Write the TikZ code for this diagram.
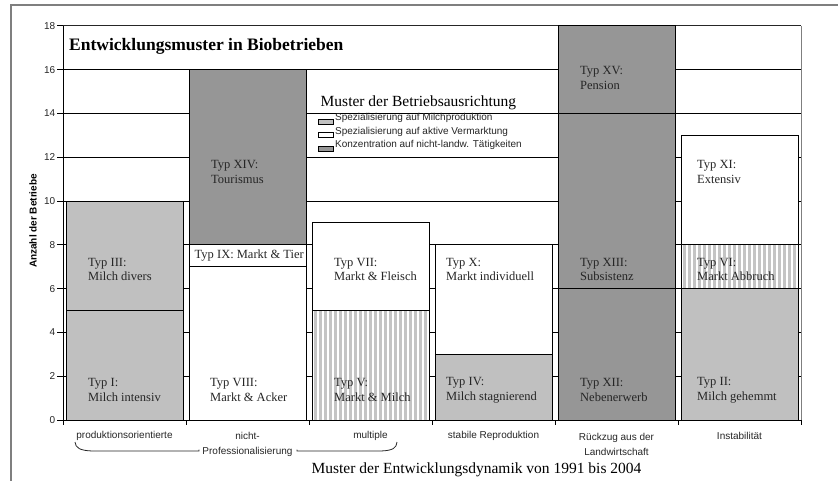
\documentclass[tikz,border=0pt]{standalone}
\usepackage{fontspec}
\setmainfont{Liberation Serif}
\setsansfont{Liberation Sans}
\definecolor{lgray}{HTML}{C0C0C0}
\definecolor{dgray}{HTML}{969696}
\definecolor{sgray}{HTML}{C4C4C4}
\definecolor{frame}{HTML}{7F7F7F}
\tikzset{
  declare function={vy(\v)=420-21.9*\v;},
  barline/.style={draw=black,line width=0.9pt},
  light/.style={fill=lgray},
  dark/.style={fill=dgray},
  blank/.style={fill=white},
  grid line/.style={draw=black,line width=0.8pt},
  typlabel/.style={font=\fontsize{12.5}{14.8}\selectfont,align=left,anchor=west,inner sep=0pt,text=black!85},
  catlabel/.style={font=\sffamily\fontsize{10}{15}\selectfont,align=center,inner sep=0pt,text=black!85},
  ticklabel/.style={font=\sffamily\fontsize{10}{12}\selectfont,anchor=east,inner sep=0pt,text=black!85},
  legtext/.style={font=\sffamily\fontsize{10}{12}\selectfont,anchor=west,inner sep=0pt,text=black!85},
  legbox/.style={draw=black,line width=0.6pt},
}
\newcommand{\barseg}[4]{%
  \draw[barline,#4] ({63+123*#1+3.5},{vy(#2)}) rectangle ({63+123*#1+120.3},{vy(#3)});}
\newcommand{\stripeseg}[3]{%
  \begin{scope}
    \clip ({63+123*#1+3.5},{vy(#2)}) rectangle ({63+123*#1+120.3},{vy(#3)});
    \fill[white] ({63+123*#1+3.5},{vy(#2)}) rectangle ({63+123*#1+120.3},{vy(#3)});
    \foreach \s in {0,5,...,120}{
      \fill[sgray] ({63+123*#1+3.5+\s+1.5},{vy(#2)}) rectangle ({63+123*#1+3.5+\s+4},{vy(#3)});
    }
  \end{scope}
  \draw[barline] ({63+123*#1+3.5},{vy(#2)}) rectangle ({63+123*#1+120.3},{vy(#3)});}
\begin{document}
\begin{tikzpicture}[x=1pt,y=-1pt]
\useasboundingbox (0,0) rectangle (838,481);
\fill[white] (0,0) rectangle (838,481);
% outer frame
\draw[frame,line width=2pt] (11,481) -- (11,5.5) -- (838,5.5);
% gridlines
\foreach \v in {2,4,...,16}{
  \draw[grid line] (63,{vy(\v)}) -- (801,{vy(\v)});
}
% plot border
\draw[frame,line width=0.9pt] (801,{vy(18)}) -- (801,420);
\draw[black!85,line width=0.8pt] (63,{vy(18)}) -- (801,{vy(18)});
% bars
\barseg{0}{0}{5}{light}
\barseg{0}{5}{10}{light}
\barseg{1}{0}{7}{blank}
\barseg{1}{7}{8}{blank}
\barseg{1}{8}{16}{dark}
\stripeseg{2}{0}{5}
\barseg{2}{5}{9}{blank}
\barseg{3}{0}{3}{light}
\barseg{3}{3}{8}{blank}
\barseg{4}{0}{6}{dark}
\barseg{4}{6}{14}{dark}
\barseg{4}{14}{18}{dark}
\barseg{5}{0}{6}{light}
\stripeseg{5}{6}{8}
\barseg{5}{8}{13}{blank}
% axes
\draw[black,line width=0.9pt] (63,{vy(18)}) -- (63,420) -- (801,420);
\foreach \v in {0,2,...,18}{
  \draw[black,line width=0.8pt] (57,{vy(\v)}) -- (63,{vy(\v)});
  \node[ticklabel] (t\v) at (55.5,{vy(\v)}) {\v};
}
\foreach \i in {0,...,6}{
  \draw[black,line width=0.8pt] ({63+123*\i},420) -- ({63+123*\i},425);
}
\node[font=\sffamily\bfseries\fontsize{10}{12}\selectfont,rotate=90,inner sep=0pt] (ylab) at (33,221) {Anzahl der Betriebe};
% title
\node[font=\bfseries\fontsize{17.5}{20}\selectfont,anchor=west,inner sep=0pt] (title) at (69,46) {Entwicklungsmuster in Biobetrieben};
% legend
\node[font=\fontsize{15.5}{18}\selectfont,anchor=west,inner sep=0pt] (legtitle) at (320.5,103) {Muster der Betriebsausrichtung};
\draw[legbox,fill=lgray] (318,119) rectangle (333,124);
\node[legtext] (leg1) at (335,117.5) {Spezialisierung auf Milchproduktion};
\draw[legbox,fill=white] (318,132.5) rectangle (333,137.5);
\node[legtext] (leg2) at (335,131.5) {Spezialisierung auf aktive Vermarktung};
\draw[legbox,fill=dgray] (318,146) rectangle (333,151);
\node[legtext] (leg3) at (335,145) {Konzentration auf nicht-landw. Tätigkeiten};
% type labels
\node[typlabel] (tI) at (88,390) {Typ I:\\Milch intensiv};
\node[typlabel] (tIII) at (88,269.5) {Typ III:\\Milch divers};
\node[typlabel] (tVIII) at (210,390) {Typ VIII:\\Markt \& Acker};
\node[typlabel] (tIX) at (194.5,256) {Typ IX: Markt \& Tier};
\node[typlabel] (tXIV) at (211,172) {Typ XIV:\\Tourismus};
\node[typlabel] (tV) at (334,390) {Typ V:\\Markt \& Milch};
\node[typlabel] (tVII) at (334,269.5) {Typ VII:\\Markt \& Fleisch};
\node[typlabel] (tIV) at (446,390) {Typ IV:\\Milch stagnierend};
\node[typlabel] (tX) at (446,269.5) {Typ X:\\Markt individuell};
\node[typlabel] (tXII) at (580,390) {Typ XII:\\Nebenerwerb};
\node[typlabel] (tXIII) at (580,269.5) {Typ XIII:\\Subsistenz};
\node[typlabel] (tXV) at (580,78) {Typ XV:\\Pension};
\node[typlabel] (tII) at (697,390) {Typ II:\\Milch gehemmt};
\node[typlabel] (tVI) at (697,269.5) {Typ VI:\\Markt Abbruch};
\node[typlabel] (tXI) at (697,172) {Typ XI:\\Extensiv};
% category labels
\node[catlabel] (c1) at (124.5,436) {produktionsorientierte};
\node[catlabel] (c2) at (247.5,444) {nicht-\\Professionalisierung};
\node[catlabel] (c3) at (370.5,436) {multiple};
\node[catlabel] (c4) at (493.5,436) {stabile Reproduktion};
\node[catlabel] (c5) at (616.5,444) {Rückzug aus der\\Landwirtschaft};
\node[catlabel] (c6) at (739.5,436) {Instabilität};
% brace
\draw[black!85,line width=0.8pt] (75,442) .. controls (75.5,448) and (80,450.5) .. (92,451) -- (199,451) -- (199,449.5);
\draw[black!85,line width=0.8pt] (297,449.5) -- (297,451) -- (381,451) .. controls (393,450.5) and (396.5,448) .. (397,442);
% caption
\node[font=\fontsize{15.5}{18}\selectfont,inner sep=0pt] (caption) at (476.5,470) {Muster der Entwicklungsdynamik von 1991 bis 2004};
\end{tikzpicture}
\end{document}
